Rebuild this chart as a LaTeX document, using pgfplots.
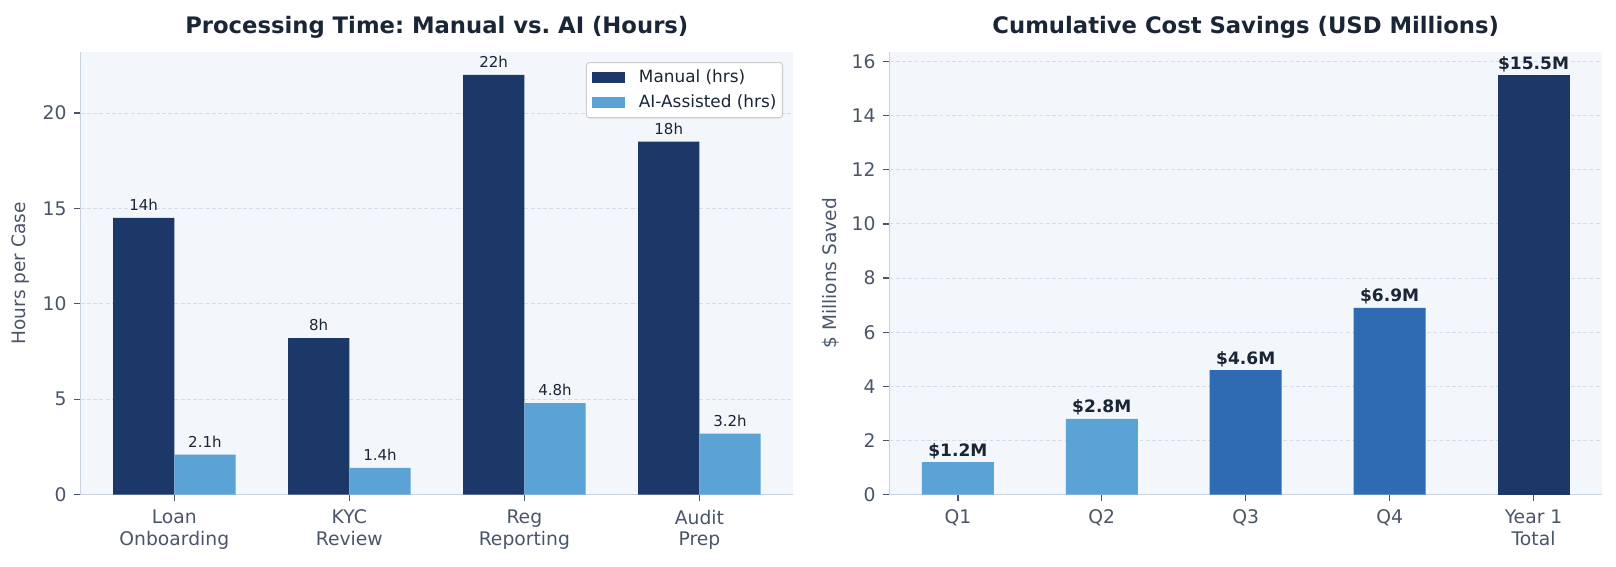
\documentclass[border=0pt]{standalone}
\usepackage{fontspec}
\setmainfont{DejaVu Sans}
\usepackage{pgfplots}
\pgfplotsset{compat=1.18}
\frenchspacing

\definecolor{navy}{HTML}{1C3869}
\definecolor{lightblue}{HTML}{5BA3D5}
\definecolor{midblue}{HTML}{2E6BB3}
\definecolor{panelbg}{HTML}{F3F6FA}
\definecolor{gridcol}{HTML}{D5DCE5}
\definecolor{spinecol}{HTML}{C8D1DE}
\definecolor{tickcol}{HTML}{4A5568}
\definecolor{titlecol}{HTML}{1A2636}

\pgfplotsset{
  panel/.style={
    scale only axis, width=341.95pt, height=212.45pt,
    axis background/.style={fill=panelbg},
    axis x line*=bottom, axis y line*=left,
    axis line style={-, draw=spinecol, line width=0.6pt},
    tick align=outside, major tick length=3.2pt,
    tick style={draw=tickcol, line width=0.6pt},
    ymajorgrids,
    grid style={draw=gridcol, line width=0.45pt, dash pattern=on 1.9pt off 1.1pt},
    ticklabel style={font=\fontsize{9pt}{10.3pt}\selectfont, text=tickcol},
    xticklabel style={align=center, yshift=-0.6pt},
    /pgf/number format/assume math mode=true,
    every axis title/.style={at={(0.5,1)}, anchor=base, yshift=9pt,
      font=\fontsize{10.9pt}{13pt}\selectfont\bfseries, text=titlecol},
    ymin=0,
  },
  ylab/.style={every axis y label/.style={at={(axis description cs:#1,0.5)},
      rotate=90, anchor=center, font=\fontsize{8.9pt}{10.3pt}\selectfont, text=tickcol}},
  barlegend/.style={legend image code/.code={\fill[##1, sharp corners] (0pt,-2.6pt) rectangle (15.8pt,2.6pt);}},
}

\begin{document}
\begin{tikzpicture}
\useasboundingbox (0,0) rectangle (775.68pt,271.68pt);

% Processing time per case, manual against AI-assisted
\begin{axis}[panel,
  at={(38.7pt,34.27pt)}, anchor=south west,
  title={Processing Time: Manual vs. AI (Hours)},
  ylabel={Hours per Case}, ylab=-0.0842,
  ybar, bar width=0.35,
  xmin=-0.535, xmax=3.535, ymax=23.2,
  ytick={0,5,10,15,20},
  xtick={0,1,2,3},
  xticklabels={{Loan\\Onboarding},{KYC\\Review},{Reg\\Reporting},{Audit\\Prep}},
  nodes near coords={\pgfplotspointmeta h},
  point meta=explicit symbolic,
  every node near coord/.append style={font=\fontsize{7.2pt}{8.6pt}\selectfont,
    text=titlecol, anchor=base, inner sep=0pt, yshift=3.6pt},
  legend cell align=left,
  legend style={at={(1,1)}, anchor=north east, xshift=-4.8pt, yshift=-4.8pt,
    draw=black!20, fill=white, rounded corners=1.5pt, line width=0.5pt,
    font=\fontsize{8.1pt}{9.5pt}\selectfont, text=titlecol,
    inner xsep=2.9pt, inner ysep=3.3pt,
    nodes={inner sep=0pt}, row sep=4.6pt, column sep=6.5pt},
]
\addplot[barlegend, fill=navy, draw=none, bar shift=-0.175] table[x=x, y=y, meta=lab] {
x y lab
0 14.5 14
1 8.2 8
2 22.0 22
3 18.5 18
};
\addlegendentry{Manual (hrs)}
\addplot[barlegend, fill=lightblue, draw=none, bar shift=0.175] table[x=x, y=y, meta=lab] {
x y lab
0 2.1 2.1
1 1.4 1.4
2 4.8 4.8
3 3.2 3.2
};
\addlegendentry{AI-Assisted (hrs)}
\end{axis}

% Cumulative savings by quarter and full year
\begin{axis}[panel,
  at={(426.96pt,34.27pt)}, anchor=south west,
  title={Cumulative Cost Savings (USD Millions)},
  ylabel={\$ Millions Saved}, ylab=-0.0822,
  ybar, bar width=0.5,
  xmin=-0.475, xmax=4.475, ymax=16.35,
  ytick={0,2,...,16},
  xtick={0,1,2,3,4},
  xticklabels={Q1,Q2,Q3,Q4,{Year 1\\Total}},
  nodes near coords={\$\pgfplotspointmeta M},
  point meta=explicit symbolic,
  every node near coord/.append style={font=\fontsize{8.2pt}{9.8pt}\selectfont\bfseries,
    text=titlecol, anchor=base, inner sep=0pt, yshift=2.8pt},
]
\addplot[fill=lightblue, draw=none, bar shift=0] table[x=x, y=y, meta=lab] {
x y lab
0 1.2 1.2
1 2.8 2.8
};
\addplot[fill=midblue, draw=none, bar shift=0] table[x=x, y=y, meta=lab] {
x y lab
2 4.6 4.6
3 6.9 6.9
};
\addplot[fill=navy, draw=none, bar shift=0] table[x=x, y=y, meta=lab] {
x y lab
4 15.5 15.5
};
\end{axis}
\end{tikzpicture}
\end{document}
